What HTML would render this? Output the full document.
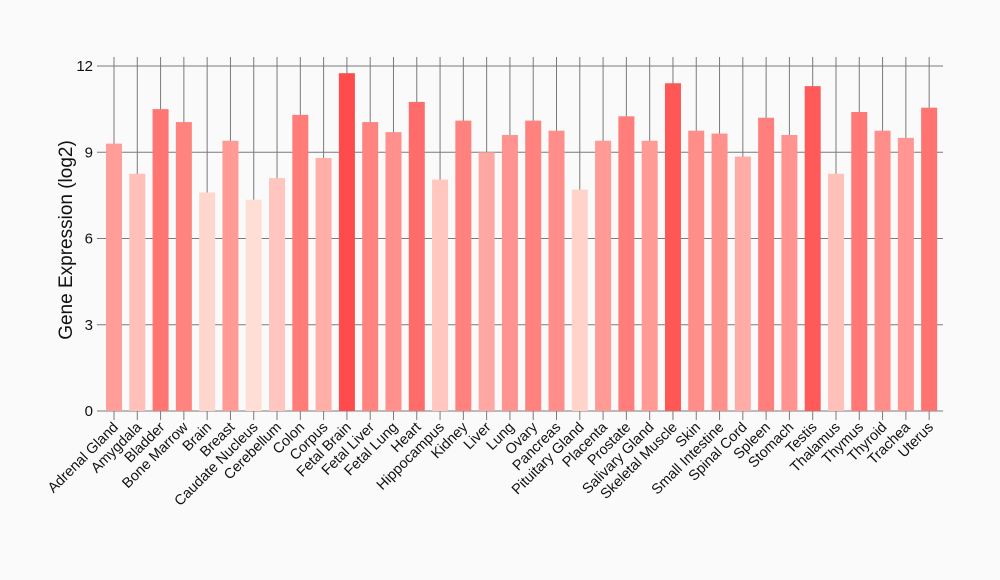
<!DOCTYPE html>
<html><head><meta charset="utf-8"><style>
html,body{margin:0;padding:0;background:#fafafa;}
svg{display:block;font-family:"Liberation Sans",Arial,sans-serif;}
</style></head><body>
<svg id="s" width="1000" height="580" xmlns="http://www.w3.org/2000/svg"></svg>
<script>
var names=["Adrenal Gland","Amygdala","Bladder","Bone Marrow","Brain","Breast","Caudate Nucleus","Cerebellum","Colon","Corpus","Fetal Brain","Fetal Liver","Fetal Lung","Heart","Hippocampus","Kidney","Liver","Lung","Ovary","Pancreas","Pituitary Gland","Placenta","Prostate","Salivary Gland","Skeletal Muscle","Skin","Small Intestine","Spinal Cord","Spleen","Stomach","Testis","Thalamus","Thymus","Thyroid","Trachea","Uterus"];
var vals=[9.3,8.25,10.5,10.05,7.6,9.4,7.35,8.1,10.3,8.8,11.75,10.05,9.7,10.75,8.05,10.1,9.0,9.6,10.1,9.75,7.7,9.4,10.25,9.4,11.4,9.75,9.65,8.85,10.2,9.6,11.3,8.25,10.4,9.75,9.5,10.55];
var y0=411,k=28.75,h='';
function Y(v){return y0-v*k;}
for(var i=0;i<names.length;i++){var cx=114+i*23.29;h+='<line x1="'+cx+'" y1="57" x2="'+cx+'" y2="420" stroke="#7a7a7a" stroke-width="1"/>';}
[0,3,6,9,12].forEach(function(v){var y=Y(v);h+='<line x1="97" y1="'+y+'" x2="943" y2="'+y+'" stroke="#7a7a7a" stroke-width="1"/><text x="93" y="'+(y+5)+'" text-anchor="end" font-size="15" fill="#111">'+v+'</text>';});
for(var i=0;i<names.length;i++){var cx=114+i*23.29,v=vals[i];var t=Math.max(0,Math.min(1,(v-7.3)/(11.75-7.3)));
var g=Math.round(224-t*149),b=Math.round(215-t*140);
h+='<rect x="'+(cx-8)+'" y="'+Y(v)+'" width="16" height="'+(v*k)+'" fill="rgb(255,'+g+','+b+')"/>';
h+='<text transform="translate('+(cx+5)+',428) rotate(-45)" text-anchor="end" font-size="14.5" fill="#111">'+names[i]+'</text>';}
h+='<text transform="translate(72,240) rotate(-90)" text-anchor="middle" font-size="19" fill="#111">Gene Expression (log2)</text>';
document.getElementById('s').innerHTML=h;
</script>
</body></html>
